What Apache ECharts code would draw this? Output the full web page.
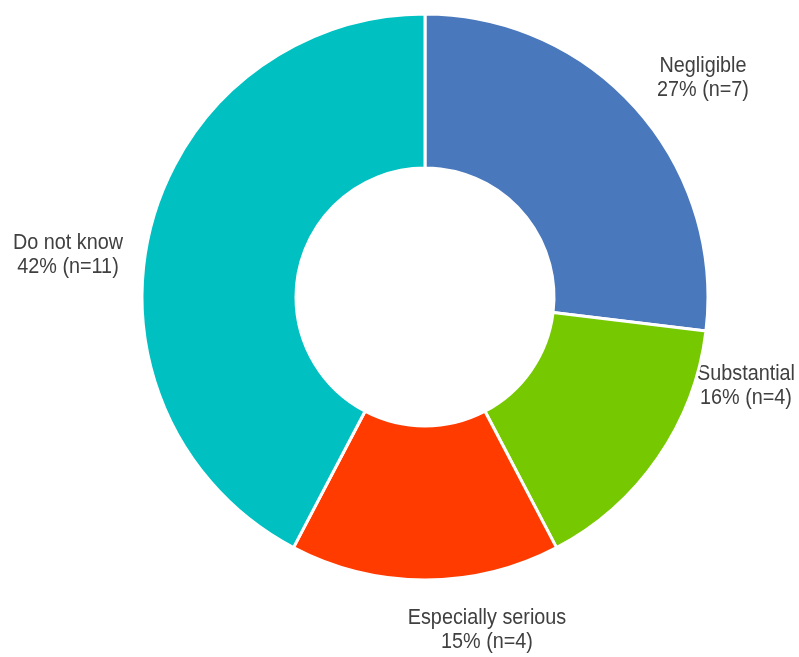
<!DOCTYPE html>
<html>
<head>
<meta charset="utf-8">
<script src="https://cdn.jsdelivr.net/npm/echarts@6/dist/echarts.min.js"></script>
<style>
  html, body { margin: 0; padding: 0; background: #ffffff; }
  #chart { width: 799px; height: 657px; }
</style>
</head>
<body>
<div id="chart"></div>
<script>
// Response categories, counts and the percentages printed in the labels
const categories = ['Negligible', 'Substantial', 'Especially serious', 'Do not know'];
const counts = [7, 4, 4, 11];
const percentLabels = ['27%', '16%', '15%', '42%'];
const colors = ['#4a78bc', '#76c900', '#ff3b00', '#00c0c2'];

// Where each label block is centred (pixels)
const labelSpots = [[703, 78], [746, 386], [487, 630], [68, 255]];

const labelText = categories.map((name, i) =>
  name + '\n' + percentLabels[i] + ' (n=' + counts[i] + ')');

const chart = echarts.init(document.getElementById('chart'), null, { renderer: 'canvas' });

chart.setOption({
  animation: false,
  backgroundColor: '#ffffff',
  series: [{
    type: 'pie',
    center: [425, 297],
    radius: [129, 283],
    startAngle: 90,
    clockwise: true,
    label: { show: false },
    labelLine: { show: false },
    itemStyle: { borderColor: '#ffffff', borderWidth: 3 },
    emphasis: { disabled: true },
    data: categories.map((name, i) => ({
      name: name,
      value: counts[i],
      itemStyle: { color: colors[i] }
    }))
  }],
  // Slightly condensed two-line captions for each slice
  graphic: labelText.map((text, i) => ({
    type: 'text',
    x: labelSpots[i][0],
    y: labelSpots[i][1],
    scaleX: 0.9,
    silent: true,
    style: {
      text: text,
      fontFamily: '"Liberation Sans", Arial, sans-serif',
      fontSize: 22,
      lineHeight: 24,
      fill: '#404040',
      align: 'center',
      verticalAlign: 'middle'
    }
  }))
});
</script>
</body>
</html>
